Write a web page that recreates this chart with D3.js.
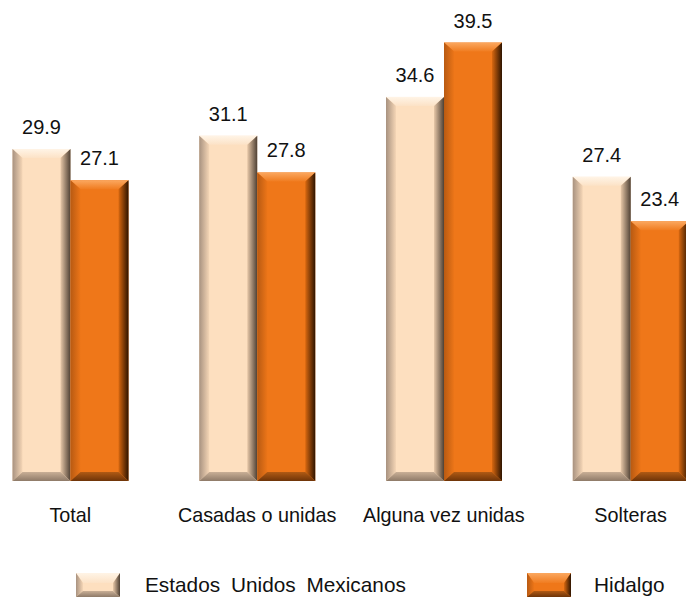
<!DOCTYPE html>
<html><head><meta charset="utf-8">
<script src="https://cdn.jsdelivr.net/npm/d3@7"></script>
<style>body{margin:0;background:#fff;}svg{display:block;font-family:"Liberation Sans",Arial,sans-serif;}</style>
</head><body>
<script>
const categories = ["Total", "Casadas o unidas", "Alguna vez unidas", "Solteras"];
const seriesNames = ["Estados Unidos Mexicanos", "Hidalgo"];
const valuesEUM = [29.9, 31.1, 34.6, 27.4];
const valuesHgo = [27.1, 27.8, 39.5, 23.4];

const W = 686, H = 599;
const svg = d3.select("body").append("svg").attr("width", W).attr("height", H);
const defs = svg.append("defs");

const palettes = [
  {face:"#FDDFBF", top:["#FFF4E6","#FCE2C6"], left:["#A89280","#F5D6B6"], right:["#E8C8A8","#4E4034"], bottom:["#C9AF96","#8E7A68"]},
  {face:"#EF7719", top:["#FBA860","#F07C20"], left:["#B85A12","#EC7518"], right:["#D86810","#2E1400"], bottom:["#B05A14","#6E3408"]}
];
palettes.forEach((p,i)=>{
  const mk=(id,c,x1,y1,x2,y2)=>{const g=defs.append("linearGradient").attr("id",id).attr("x1",x1).attr("y1",y1).attr("x2",x2).attr("y2",y2);
    g.append("stop").attr("offset","0").attr("stop-color",c[0]);g.append("stop").attr("offset","1").attr("stop-color",c[1]);};
  mk("top"+i,p.top,0,0,0,1);
  mk("left"+i,p.left,0,0,1,0);
  mk("right"+i,p.right,0,0,1,0);
  mk("bottom"+i,p.bottom,0,0,0,1);
});

const x0 = d3.scaleBand().domain(categories).range([-23, 724]);
const x1 = d3.scaleBand().domain(seriesNames).range([35.5, 151.5]);
const y = d3.scaleLinear().domain([0, 40]).range([481, 37]);

const data = categories.map((c,i)=>({cat:c, vals:[valuesEUM[i], valuesHgo[i]]}));

const bw = x1.bandwidth();
const bx = 10, by = 9;
data.forEach(d=>{
  d.vals.forEach((v,si)=>{
    const X = x0(d.cat) + x1(seriesNames[si]);
    const Y = y(v), h = y(0) - y(v), w = bw;
    const g = svg.append("g");
    const p = palettes[si];
    g.append("rect").attr("x",X).attr("y",Y).attr("width",w).attr("height",h).attr("fill",p.face);
    g.append("polygon").attr("points",[[X,Y],[X+w,Y],[X+w-bx,Y+by],[X+bx,Y+by]].join(" ")).attr("fill","url(#top"+si+")");
    g.append("polygon").attr("points",[[X,Y],[X+bx,Y+by],[X+bx,Y+h-by],[X,Y+h]].join(" ")).attr("fill","url(#left"+si+")");
    g.append("polygon").attr("points",[[X+w,Y],[X+w-bx,Y+by],[X+w-bx,Y+h-by],[X+w,Y+h]].join(" ")).attr("fill","url(#right"+si+")");
    g.append("polygon").attr("points",[[X,Y+h],[X+bx,Y+h-by],[X+w-bx,Y+h-by],[X+w,Y+h]].join(" ")).attr("fill","url(#bottom"+si+")");
    svg.append("text").attr("x",X+w/2).attr("y",Y-15).attr("text-anchor","middle")
      .attr("font-size",20).attr("fill","#111").text(v.toFixed(1));
  });
});

categories.forEach(c=>{
  svg.append("text").attr("x",x0(c)+x0.bandwidth()/2).attr("y",522).attr("text-anchor","middle")
    .attr("font-size",19.8).attr("fill","#111").text(c);
});

// legend
const legX = [76, 527], legTextX = [145, 594];
seriesNames.forEach((s,si)=>{
  const X = legX[si], Y = 573, w = 44, h = 24, b = 7, bvy = 6;
  const p = palettes[si];
  const g = svg.append("g");
  g.append("rect").attr("x",X).attr("y",Y).attr("width",w).attr("height",h).attr("fill",p.face);
  g.append("polygon").attr("points",[[X,Y],[X+w,Y],[X+w-b,Y+bvy+4],[X+b,Y+bvy+4]].join(" ")).attr("fill","url(#top"+si+")");
  g.append("polygon").attr("points",[[X,Y],[X+b,Y+bvy+4],[X+b,Y+h-bvy],[X,Y+h]].join(" ")).attr("fill","url(#left"+si+")");
  g.append("polygon").attr("points",[[X+w,Y],[X+w-b,Y+bvy+4],[X+w-b,Y+h-bvy],[X+w,Y+h]].join(" ")).attr("fill","url(#right"+si+")");
  g.append("polygon").attr("points",[[X,Y+h],[X+b,Y+h-bvy],[X+w-b,Y+h-bvy],[X+w,Y+h]].join(" ")).attr("fill","url(#bottom"+si+")");
  svg.append("text").attr("x",legTextX[si]).attr("y",591.5).attr("font-size",20.8).attr("fill","#111")
    .attr("word-spacing",si===0?5:0).text(s);
});
</script>
</body></html>
